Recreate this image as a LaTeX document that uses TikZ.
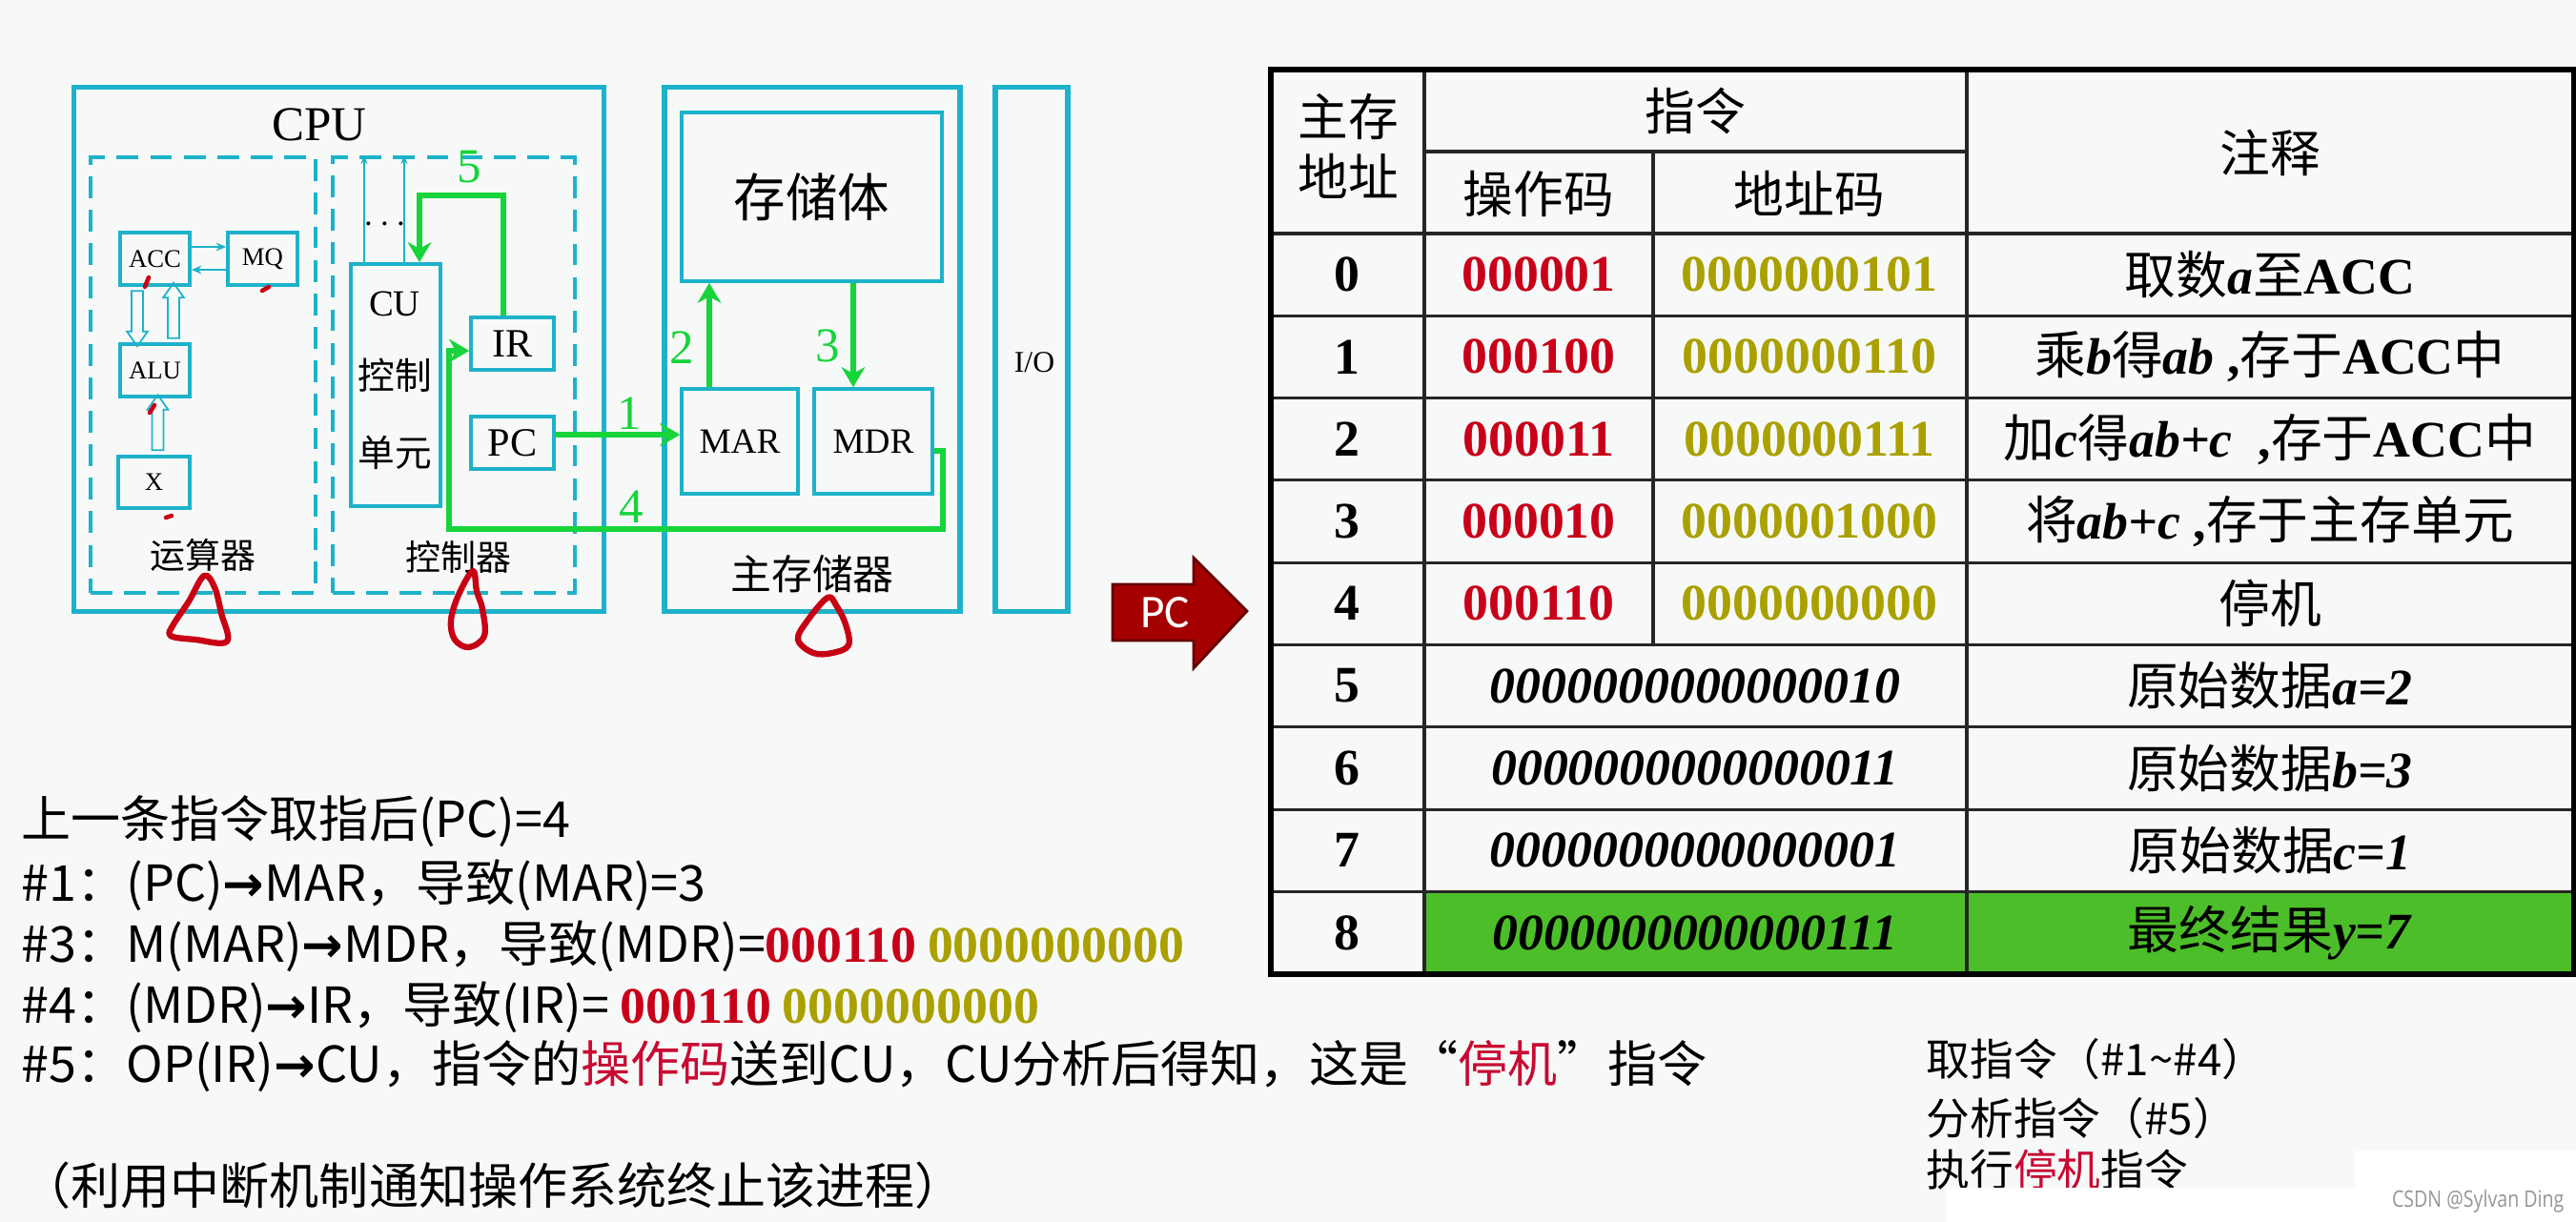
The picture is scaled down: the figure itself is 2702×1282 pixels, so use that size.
\documentclass[tikz,border=0pt]{standalone}
\usepackage{fontspec}
\setmainfont{Liberation Serif}
\newfontfamily\cjk{Noto Sans CJK SC}
\newfontfamily\pcfont{Carlito}
\newfontfamily\markfont{Open Sans}
\newfontfamily\arrowfont{DejaVu Sans}
\usepackage{tikz}
\usetikzlibrary{arrows.meta,calc,positioning,shapes.arrows}
\usepackage{xcolor}
\definecolor{pagebg}{RGB}{247,249,248}
\definecolor{cyanline}{RGB}{30,178,202}
\definecolor{flowgreen}{RGB}{22,212,58}
\definecolor{opred}{RGB}{200,0,25}
\definecolor{addrolive}{RGB}{170,160,0}
\definecolor{hlred}{RGB}{200,10,50}
\definecolor{rowgreen}{RGB}{76,190,42}
\definecolor{pcred}{RGB}{165,0,0}
\definecolor{pcdark}{RGB}{100,0,0}
\definecolor{inkred}{RGB}{200,0,20}
\definecolor{wmgray}{RGB}{150,150,150}
\newcommand\fsz[1]{\fontsize{#1}{#1}\selectfont}
\newcommand\zh[1]{{\cjk\mdseries #1}}
\newcommand\sendto{{\arrowfont\bfseries →}}
\newcommand\bits[2]{{\rmfamily\bfseries\fsz{15.3}\color{#1}#2}}

\begin{document}
\begin{tikzpicture}[x=0.01cm,y=-0.01cm,
  outerbox/.style={draw=cyanline,line width=1.5pt,inner sep=0pt},
  dashbox/.style={draw=cyanline,line width=1pt,dash pattern=on 6.5pt off 3.5pt,inner sep=0pt},
  regbox/.style={draw=cyanline,line width=1pt,inner sep=0pt,font=\fsz{12}},
  wire/.style={draw=cyanline,line width=.7pt},
  hollow/.style={single arrow,draw=cyanline,line width=.5pt,inner sep=.05cm,
    minimum height=.58cm,single arrow head extend=.05cm,single arrow tip angle=70},
  flow/.style={draw=flowgreen,line width=1.9pt,-{Stealth[length=6pt,width=7pt]}},
  num/.style={text=flowgreen,font=\fsz{14.5},inner sep=0pt},
  ink/.style={draw=inkred,line width=1.8pt,line cap=round,line join=round},
  tline/.style={draw=black!85,line width=.9pt},
  tcell/.style={inner sep=0pt,font=\bfseries\fsz{15.3}},
  txt/.style={anchor=base west,inner sep=0pt,font=\cjk\fsz{14.8}},
  lbl/.style={inner sep=0pt}]
 \fill[pagebg] (0,0) rectangle (2702,1282);
 \useasboundingbox (0,0) rectangle (2702,1282);

 % CPU
 \node[outerbox,minimum width=5.55cm,minimum height=5.49cm] (cpu) at (355.5,366.5) {};
 \node[lbl,font=\fsz{14.5}] (cputxt) at (335,131) {CPU};
 \node[dashbox,minimum width=2.36cm,minimum height=4.57cm] (alubox) at (213,393.5) {};
 \node[dashbox,minimum width=2.54cm,minimum height=4.57cm] (ctrlbox) at (476,393.5) {};
 \node[regbox,font=\fsz{7.6},minimum width=.73cm,minimum height=.55cm] (acc) at (162.5,271.5) {ACC};
 \node[regbox,font=\fsz{7.6},minimum width=.73cm,minimum height=.55cm] (mq) at (275.5,271.5) {MQ};
 \node[regbox,font=\fsz{7.6},minimum width=.73cm,minimum height=.55cm] (alu) at (162.5,388.5) {ALU};
 \node[regbox,font=\fsz{7.6},minimum width=.75cm,minimum height=.54cm] (xreg) at (161.5,506) {X};
 \draw[wire,-{Stealth[length=3pt,width=2.5pt]}] ([yshift=.125cm]acc.east) -- ([yshift=.125cm]mq.west);
 \draw[wire,-{Stealth[length=3pt,width=2.5pt]}] ([yshift=-.115cm]mq.west) -- ([yshift=-.115cm]acc.east);
 \node[hollow,shape border rotate=270] (acc2alu) at ($(acc.south)!.5!(alu.north)+(-18.5,0)$) {};
 \node[hollow,shape border rotate=90] (alu2acc) at ($(acc.south)!.5!(alu.north)+(19.5,0)$) {};
 \node[hollow,shape border rotate=90] (x2alu) at ($(alu.south)!.5!(xreg.north)+(3.5,0)$) {};
 \node[lbl,font=\cjk\fsz{10.5}] (alulbl) at (213,582) {运算器};
 \node[lbl,font=\cjk\fsz{10.5}] (ctrllbl) at (481,584) {控制器};
 \node[regbox,minimum width=.94cm,minimum height=2.54cm] (cu) at (415,404) {};
 \node[lbl,font=\fsz{11}] (cu1) at (414,319) {CU};
 \node[lbl,font=\cjk\fsz{11}] (cu2) at (414,394) {控制};
 \node[lbl,font=\cjk\fsz{11}] (cu3) at (414,475) {单元};
 \draw[wire,-{Stealth[length=2.5pt,width=2pt]}] ([xshift=-.33cm]cu.north) -- ([xshift=-.33cm]cu.north |- ctrlbox.north);
 \draw[wire,-{Stealth[length=2.5pt,width=2pt]}] ([xshift=.09cm]cu.north) -- ([xshift=.09cm]cu.north |- ctrlbox.north);
 \node[lbl,font=\fsz{11}] (cudots) at (404,236) {$\cdots$};
 \node[regbox,minimum width=.87cm,minimum height=.55cm] (ir) at (537.5,360.5) {IR};
 \node[regbox,minimum width=.87cm,minimum height=.55cm] (pc) at (537.5,464.5) {PC};

 % main memory, I/O
 \node[outerbox,minimum width=3.10cm,minimum height=5.49cm] (mem) at (852,366.5) {};
 \node[regbox,font=\cjk\fsz{15.5},minimum width=2.73cm,minimum height=1.77cm] (store) at (851.5,206.5) {存储体};
 \node[regbox,font=\fsz{10.6},minimum width=1.22cm,minimum height=1.10cm] (mar) at (776,463) {MAR};
 \node[regbox,font=\fsz{10.6},minimum width=1.24cm,minimum height=1.10cm] (mdr) at (916,463) {MDR};
 \node[lbl,font=\cjk\fsz{12.2}] (memlbl) at (852,602) {主存储器};
 \node[outerbox,minimum width=.76cm,minimum height=5.49cm] (io) at (1082,366.5) {};
 \node[lbl,font=\fsz{9}] (iotxt) at (1085,380) {I/O};

 % steps 1-5
 \draw[flow] ([yshift=.085cm]pc.east) -- ([yshift=.085cm]pc.east -| mar.west);
 \draw[flow] ([xshift=-.32cm]mar.north) -- ([xshift=-.32cm]mar.north |- store.south);
 \draw[flow] ([xshift=-.21cm]mdr.north |- store.south) -- ([xshift=-.21cm]mdr.north);
 \coordinate (bend4r) at (989,555); \coordinate (bend4l) at (471,555);
 \draw[flow] ([yshift=-.1cm]mdr.east) -| (bend4r) -- (bend4l) |- ([yshift=-.075cm]ir.west);
 \coordinate (bend5) at (440,205);
 \draw[flow] ([xshift=-.095cm]ir.north) |- (bend5) -- (bend5 |- cu.north);
 \node[num] (n1) at (660,434) {1};
 \node[num] (n2) at (715,365) {2};
 \node[num] (n3) at (868,363) {3};
 \node[num] (n4) at (662,532) {4};
 \node[num] (n5) at (492,175) {5};

 % hand marks
 \draw[ink] plot[smooth cycle,tension=.6] coordinates {(214,604) (198,631) (182,655) (179,667) (205,671) (238,673) (232,643) (225,616)};
 \draw[ink] plot[smooth cycle,tension=.6] coordinates {(496,599) (481,624) (473,651) (477,671) (492,679) (508,667) (506,639) (500,620)};
 \draw[ink] plot[smooth cycle,tension=.6] coordinates {(868,627) (847,651) (837,671) (853,685) (873,685) (890,677) (887,655) (877,635)};
 \draw[ink,line width=1.3pt] (152,301) -- (156,291);
 \draw[ink,line width=1.3pt] (275,305) -- (282,301);
 \draw[ink,line width=1.3pt] (157,433) -- (162,425);
 \draw[ink,line width=1.3pt] (174,543) -- (180,541);

 % PC pointer
 \filldraw[fill=pcred,draw=pcdark,line width=.8pt] (1167,613) -- (1252,613) -- (1252,585) -- (1308,641) -- (1252,701) -- (1252,672) -- (1167,672) -- cycle;
 \node[lbl,font=\pcfont\fsz{14},text=white] (pctag) at (1222,643) {PC};

 % table
 \fill[rowgreen] (1494,935.4) rectangle (2700,1021.7);
 \foreach \i in {0,...,8} \draw[tline] (1333,{245+86.3*\i}) -- (2700,{245+86.3*\i});
 \draw[tline] (1494,73) -- (1494,1022);
 \draw[tline] (2063,73) -- (2063,1022);
 \draw[tline] (1494,159) -- (2063,159);
 \draw[tline] (1734,159) -- (1734,676.5);
 \draw[draw=black,line width=1.7pt] (1333,73) rectangle (2700,1022);
 \node[lbl,font=\cjk\fsz{15},align=center] (hdaddr) at (1414,153) {主存\\[3pt]地址};
 \node[lbl,font=\cjk\fsz{15}] (hdins) at (1778,116) {指令};
 \node[lbl,font=\cjk\fsz{15}] (hdop) at (1614,203) {操作码};
 \node[lbl,font=\cjk\fsz{15}] (hdad) at (1898,203) {地址码};
 \node[lbl,font=\cjk\fsz{15}] (hdnote) at (2381,160) {注释};
 \foreach \i in {0,...,8} \node[tcell] (addr\i) at (1413,{288+86.3*\i}) {\i};
 \foreach \i/\op/\ad/\note in {
   0/000001/0000000101/{\zh{取数}\textit{a}\zh{至}ACC},
   1/000100/0000000110/{\zh{乘}\textit{b}\zh{得}\textit{ab} ,\zh{存于}ACC\zh{中}},
   2/000011/0000000111/{\zh{加}\textit{c}\zh{得}\textit{ab+c}\ \ ,\zh{存于}ACC\zh{中}},
   3/000010/0000001000/{\zh{将}\textit{ab+c} ,\zh{存于主存单元}},
   4/000110/0000000000/{\zh{停机}}} {
   \node[tcell,text=opred] (op\i) at (1614,{288+86.3*\i}) {\op};
   \node[tcell,text=addrolive] (ad\i) at (1898,{288+86.3*\i}) {\ad};
   \node[tcell] (note\i) at (2381,{288+86.3*\i}) {\note};
 }
 \foreach \i/\val/\note in {
   5/0000000000000010/{\zh{原始数据}\textit{a=2}},
   6/0000000000000011/{\zh{原始数据}\textit{b=3}},
   7/0000000000000001/{\zh{原始数据}\textit{c=1}},
   8/0000000000000111/{\zh{最终结果}\textit{y=7}}} {
   \node[tcell,font=\bfseries\itshape\fsz{15.3}] (val\i) at (1778,{288+86.3*\i}) {\val};
   \node[tcell] (note\i) at (2381,{288+86.3*\i}) {\note};
 }

 % steps text
 \node[txt] (l1) at (22,878) {上一条指令取指后(PC)=4};
 \node[txt] (l2) at (22,945) {\#1：(PC)\sendto MAR，导致(MAR)=3};
 \node[txt] (l3) at (22,1009) {\#3：M(MAR)\sendto MDR，导致(MDR)=\bits{opred}{000110} \bits{addrolive}{0000000000}};
 \node[txt] (l4) at (22,1073) {\#4：(MDR)\sendto IR，导致(IR)= \bits{opred}{000110} \bits{addrolive}{0000000000}};
 \node[txt] (l5) at (22,1135) {\#5：OP(IR)\sendto CU，指令的\textcolor{hlred}{操作码}送到CU，CU分析后得知，这是“\textcolor{hlred}{停机}”指令};
 \node[txt] (l6) at (22,1263) {（利用中断机制通知操作系统终止该进程）};
 \node[txt,font=\cjk\fsz{13}] (r1) at (2020,1128) {取指令（\#1\textasciitilde\#4）};
 \node[txt,font=\cjk\fsz{13}] (r2) at (2020,1190) {分析指令（\#5）};
 \node[txt,font=\cjk\fsz{13}] (r3) at (2020,1244) {执行\textcolor{hlred}{停机}指令};
 \fill[white] (2041,1246) rectangle (2470,1282);
 \fill[white] (2470,1207) rectangle (2702,1282);
 \node[lbl,font=\markfont\fsz{6.8},text=wmgray,xscale=.82,anchor=east] (wm) at (2690,1260) {CSDN @Sylvan Ding};
\end{tikzpicture}
\end{document}
